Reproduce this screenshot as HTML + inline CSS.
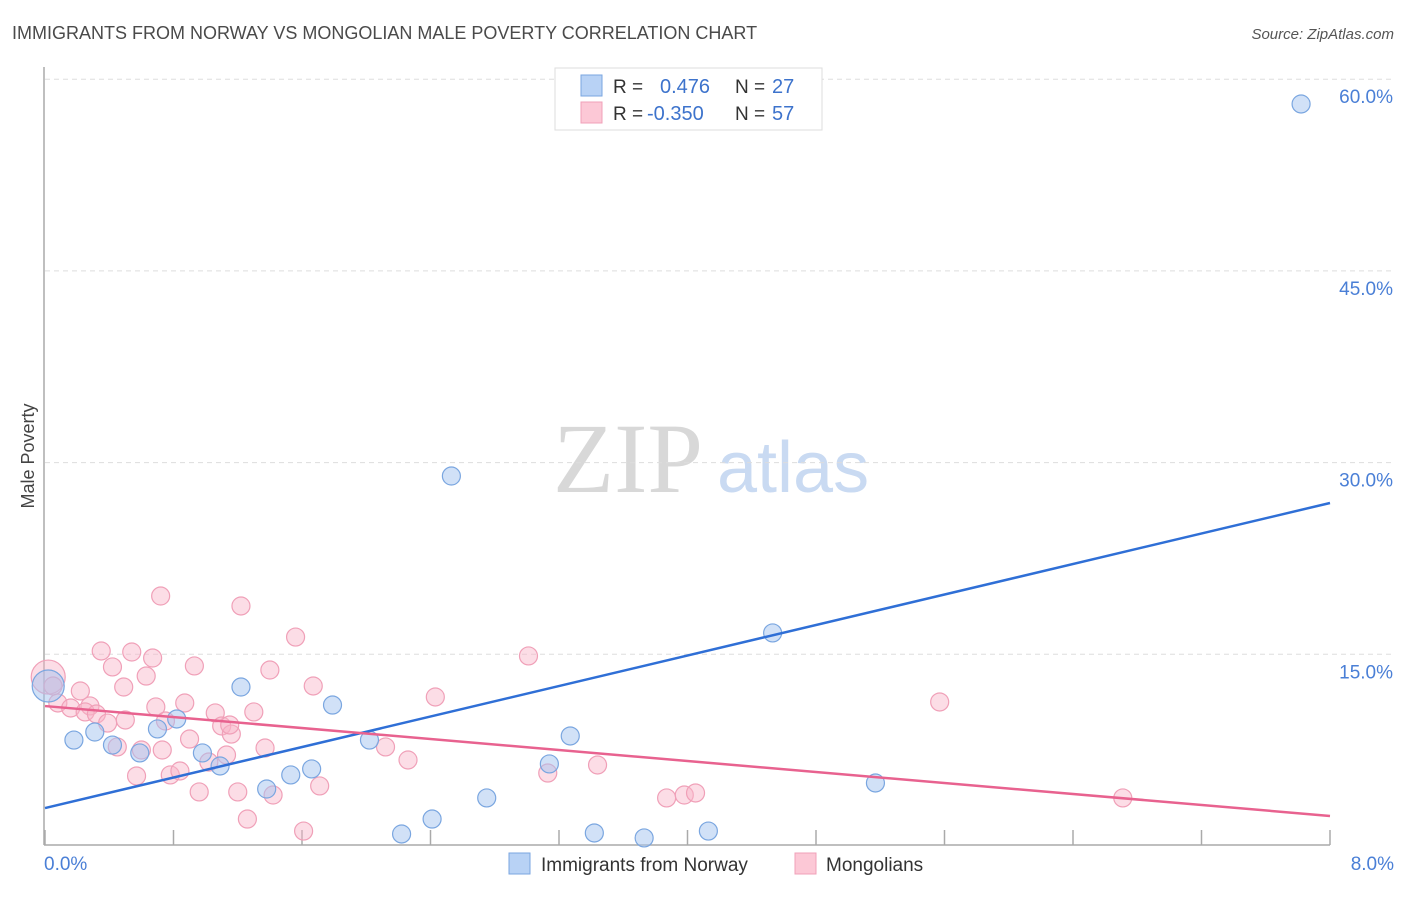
<!DOCTYPE html>
<html><head><meta charset="utf-8"><style>
body{margin:0;background:#fff;font-family:"Liberation Sans",sans-serif;}
</style></head><body>
<svg id="chart" width="1406" height="892" viewBox="0 0 1406 892" xmlns="http://www.w3.org/2000/svg" font-family="Liberation Sans, sans-serif">
<text x="12" y="39" font-size="18" fill="#4a4a4a">IMMIGRANTS FROM NORWAY VS MONGOLIAN MALE POVERTY CORRELATION CHART</text>
<text x="1394" y="39" font-size="15" fill="#555" font-style="italic" text-anchor="end">Source: ZipAtlas.com</text>
<g>
<text x="553" y="492" font-size="100" style="font-family:'Liberation Serif',serif" fill="#d8d8d8">ZIP</text>
<text x="717" y="492" font-size="72" fill="#c9daf2">atlas</text>
</g>
<g id="grid"></g>
<line x1="44" y1="67" x2="44" y2="845" stroke="#aaa" stroke-width="1.5"/>
<line x1="44" y1="845" x2="1330" y2="845" stroke="#aaa" stroke-width="1.5"/>
<text transform="translate(34,456) rotate(-90)" font-size="18" fill="#444" text-anchor="middle">Male Poverty</text>
<text x="44" y="870" font-size="19" fill="#4a7fd6">0.0%</text>
<text x="1394" y="870" font-size="19" fill="#4a7fd6" text-anchor="end">8.0%</text>
<g id="pts"></g>
<g id="lines"></g>
<g>
<rect x="555" y="68" width="267" height="62" fill="#fff" stroke="#ddd"/>
<rect x="581" y="75" width="21" height="21" fill="#b8d2f5" stroke="#7aa6e0"/>
<rect x="581" y="102" width="21" height="21" fill="#fcc8d6" stroke="#f0a0b8"/>
<text x="613" y="93" font-size="19" fill="#333">R =</text>
<text x="660" y="93" font-size="20" fill="#3d73cc">0.476</text>
<text x="735" y="93" font-size="19" fill="#333">N =</text>
<text x="772" y="93" font-size="20" fill="#3d73cc">27</text>
<text x="613" y="120" font-size="19" fill="#333">R =</text>
<text x="647" y="120" font-size="20" fill="#3d73cc">-0.350</text>
<text x="735" y="120" font-size="19" fill="#333">N =</text>
<text x="772" y="120" font-size="20" fill="#3d73cc">57</text>
</g>
<g>
<rect x="509" y="853" width="21" height="21" fill="#b8d2f5" stroke="#7aa6e0"/>
<text x="541" y="871" font-size="19" fill="#333">Immigrants from Norway</text>
<rect x="795" y="853" width="21" height="21" fill="#fcc8d6" stroke="#f0a0b8"/>
<text x="826" y="871" font-size="19" fill="#333">Mongolians</text>
</g>
</svg>
<script>
const yTicks=[15,30,45,60];
const yTickLabels=["15.0%","30.0%","45.0%","60.0%"];
const xTicks=[0,0.8,1.6,2.4,3.2,4.0,4.8,5.6,6.4,7.2,8.0];
const blueX=[0.02,0.18,0.31,0.42,0.59,0.70,0.82,0.98,1.09,1.22,1.38,1.53,1.66,1.79,2.02,2.22,2.41,2.53,2.75,3.14,3.27,3.42,3.73,4.13,4.53,5.17,7.82];
const blueY=[12.52,8.29,8.92,7.90,7.28,9.16,9.94,7.28,6.26,12.44,4.46,5.56,6.03,11.03,8.29,0.94,2.11,28.95,3.76,6.42,8.61,1.02,0.63,1.17,16.67,4.93,58.06];
const pinkX=[0.02,0.05,0.08,0.16,0.22,0.28,0.25,0.32,0.39,0.35,0.42,0.45,0.49,0.54,0.57,0.60,0.63,0.67,0.69,0.72,0.75,0.78,0.84,0.87,0.90,0.93,0.96,1.02,1.06,1.10,1.13,1.16,1.20,1.22,1.26,1.30,1.37,1.40,1.42,1.56,1.61,1.67,1.71,2.12,2.26,2.43,3.01,3.13,3.44,3.87,3.98,4.05,5.57,6.71,0.73,0.50,1.15];
const pinkY=[13.22,12.52,11.19,10.80,12.13,10.96,10.49,10.33,9.62,15.26,14.01,7.75,12.44,15.18,5.48,7.51,13.30,14.71,10.88,19.56,9.78,5.56,5.87,11.19,8.37,14.09,4.23,6.57,10.41,9.39,7.12,8.76,4.23,18.78,2.11,10.49,7.67,13.77,3.99,16.35,1.17,12.52,4.70,7.75,6.73,11.66,14.87,5.71,6.34,3.76,3.99,4.15,11.27,3.76,7.51,9.86,9.47];
const blueTrend=[2.97,26.84];
const pinkTrend=[10.95,2.35];
const NS="http://www.w3.org/2000/svg";
const sx=v=>45+v/8*1285;
const sy=v=>846-v/15*191.7;
function mk(tag,attrs,parent){const e=document.createElementNS(NS,tag);for(const k in attrs)e.setAttribute(k,attrs[k]);parent.appendChild(e);return e;}
const grid=document.getElementById('grid');
yTicks.forEach((t,i)=>{
 const l=mk('line',{x1:45,x2:1394,y1:sy(t),y2:sy(t),stroke:'#ddd','stroke-dasharray':'5,4'},grid);
 
 
 const tx=mk('text',{x:1393,y:sy(t)+24,'font-size':19,fill:'#4a7fd6','text-anchor':'end'},grid);
 tx.textContent=yTickLabels[i];
 
 
});
xTicks.forEach(t=>{
 const l=mk('line',{x1:sx(t),x2:sx(t),y1:830,y2:845,stroke:'#aaa','stroke-width':1.5},grid);
 
 
});
const pts=document.getElementById('pts');
pinkX.forEach((x,i)=>{
 const c=mk('circle',{cx:sx(x),cy:sy(pinkY[i]),r:i==0?17:9,fill:'rgba(248,180,200,0.45)',stroke:'#f0a0b8','stroke-width':1.2},pts);
 
 
});
blueX.forEach((x,i)=>{
 const c=mk('circle',{cx:sx(x),cy:sy(blueY[i]),r:i==0?16:9,fill:'rgba(164,196,240,0.5)',stroke:'#7aa6e0','stroke-width':1.2},pts);
 
 
});
const lines=document.getElementById('lines');
const bl=mk('line',{x1:sx(0),y1:sy(blueTrend[0]),x2:sx(8),y2:sy(blueTrend[1]),stroke:'#2f6fd6','stroke-width':2.5},lines);


const pl=mk('line',{x1:sx(0),y1:sy(pinkTrend[0]),x2:sx(8),y2:sy(pinkTrend[1]),stroke:'#e8628f','stroke-width':2.5},lines);


</script>
</body></html>
